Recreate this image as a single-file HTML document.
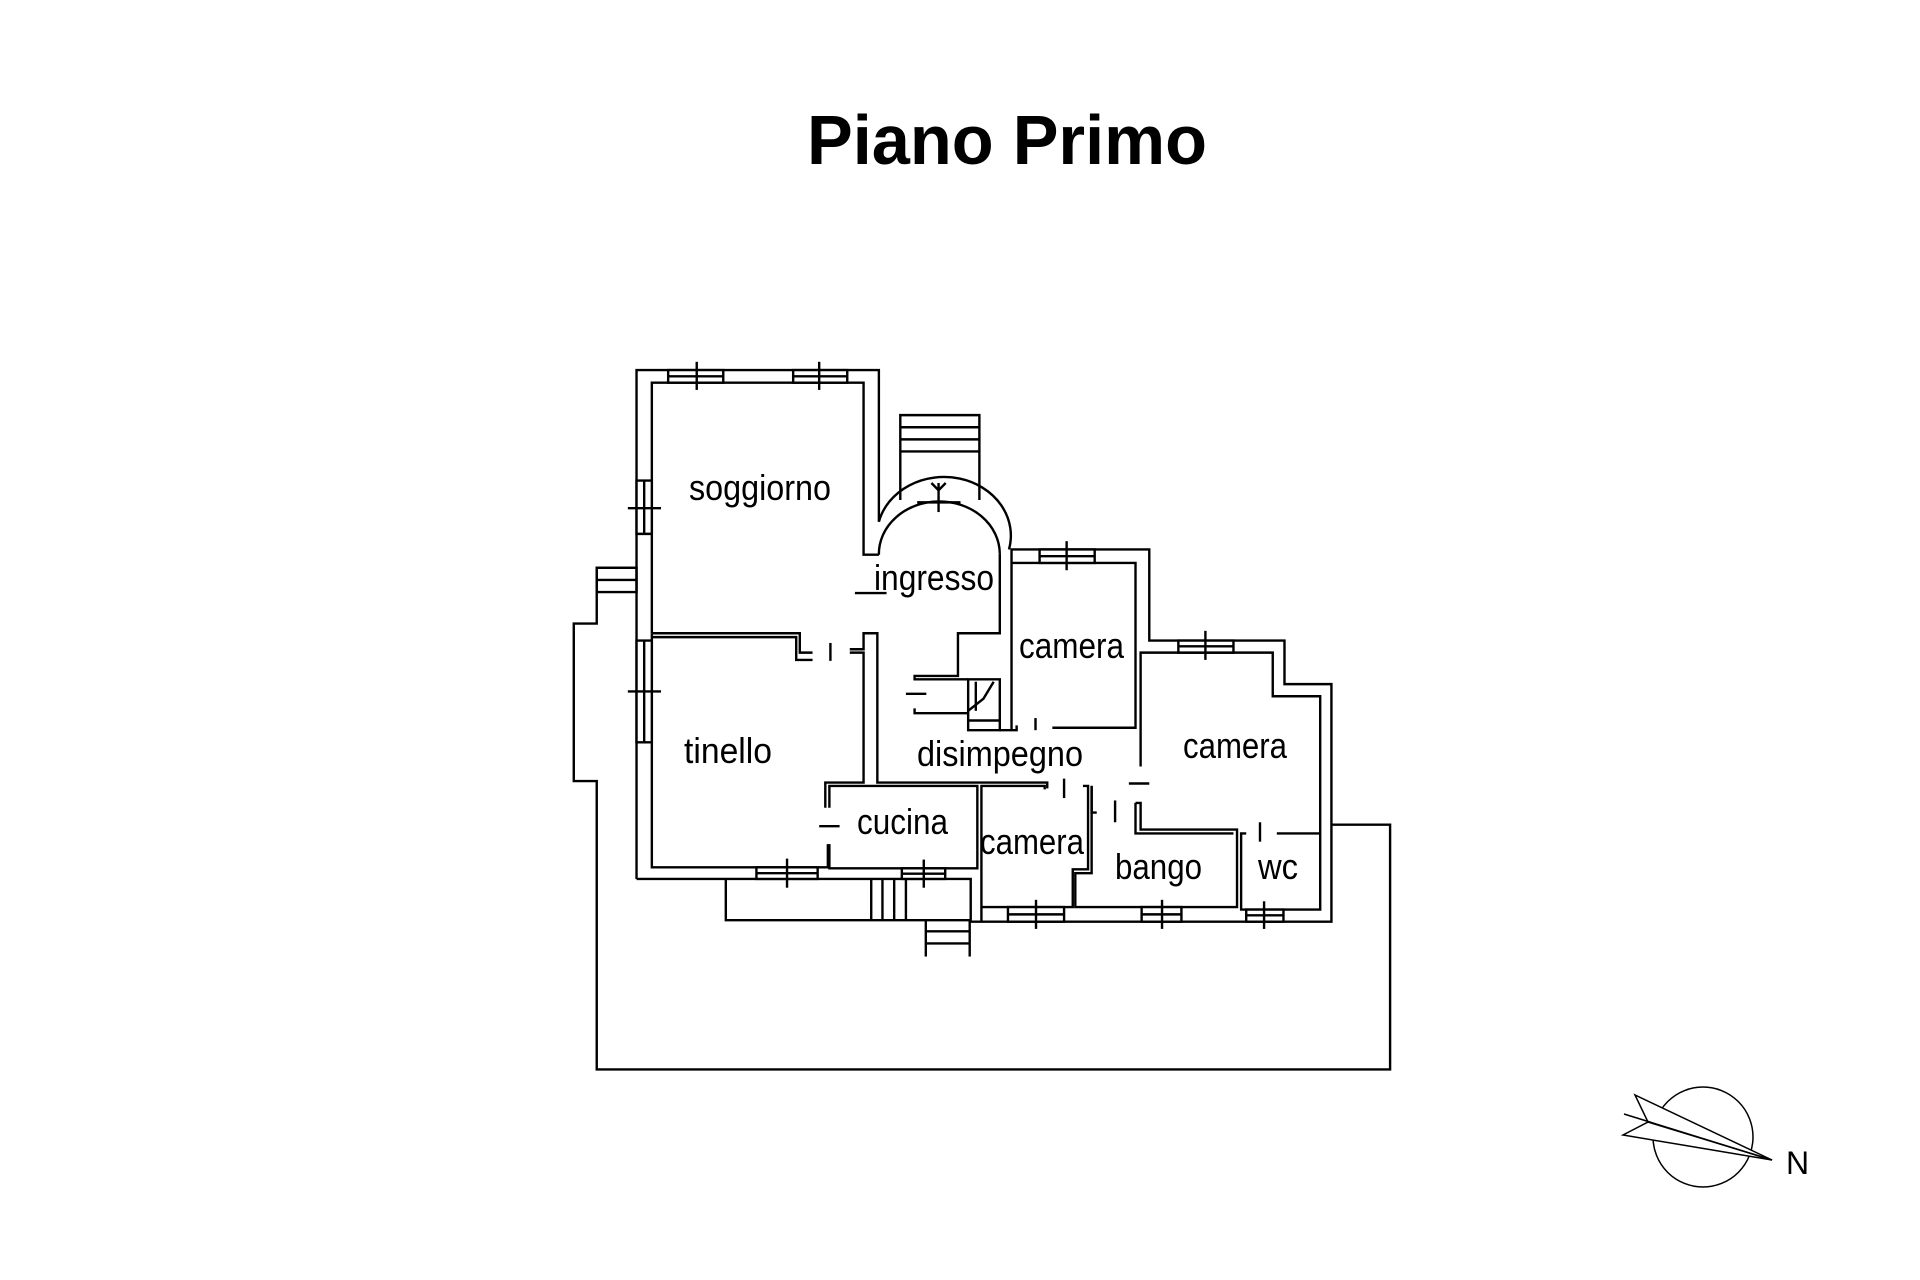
<!DOCTYPE html>
<html><head><meta charset="utf-8"><style>
html,body{margin:0;padding:0;background:#fff;}
svg{display:block;}
text{font-family:"Liberation Sans",sans-serif;fill:#000;}
</style></head><body>
<svg width="1920" height="1280" viewBox="0 0 1920 1280" xmlns="http://www.w3.org/2000/svg">
<rect width="1920" height="1280" fill="#fff"/>
<text x="807" y="164" font-size="70" font-weight="bold" textLength="400" lengthAdjust="spacingAndGlyphs">Piano Primo</text>

<g transform="translate(560,340) scale(0.5102,0.4847)" fill="none" stroke="#000" stroke-width="2.4" >
<g>
<polyline vector-effect="non-scaling-stroke" points="150,470 72,470 72,585 27,585 27,910 72,910 72,1505 1627,1505 1627,1000 1512,1000"/>
<rect vector-effect="non-scaling-stroke" x="72" y="470" width="78" height="50"/>
<line vector-effect="non-scaling-stroke" x1="72" y1="495" x2="150" y2="495"/>
<polyline vector-effect="non-scaling-stroke" points="150,1112 150,62 625,62 625,375"/>
<polyline vector-effect="non-scaling-stroke" points="180,605 180,88 595,88 595,443 625,443"/>
<path vector-effect="non-scaling-stroke" d="M625,375 A128,118 0 0 1 880,432"/>
<path vector-effect="non-scaling-stroke" d="M625,443 A118,108 0 0 1 862,440"/>
<polyline vector-effect="non-scaling-stroke" points="862,440 862,605 780,605 780,693 695,693 695,700 800,700"/>
<line vector-effect="non-scaling-stroke" x1="700" y1="335" x2="785" y2="335"/>
<line vector-effect="non-scaling-stroke" x1="742" y1="295" x2="742" y2="355"/>
<polyline vector-effect="non-scaling-stroke" points="728,295 742,310 756,295"/>
<polyline vector-effect="non-scaling-stroke" points="667,330 667,155 822,155 822,330"/>
<line vector-effect="non-scaling-stroke" x1="667" y1="180" x2="822" y2="180"/>
<line vector-effect="non-scaling-stroke" x1="667" y1="205" x2="822" y2="205"/>
<line vector-effect="non-scaling-stroke" x1="667" y1="230" x2="822" y2="230"/>
<rect vector-effect="non-scaling-stroke" x="800" y="700" width="62" height="105"/>
<polyline vector-effect="non-scaling-stroke" points="695,760 695,770 800,770"/>
<line vector-effect="non-scaling-stroke" x1="678" y1="730" x2="718" y2="730"/>
<polyline vector-effect="non-scaling-stroke" points="800,765 830,740 850,705"/>
<line vector-effect="non-scaling-stroke" x1="815" y1="705" x2="815" y2="765"/>
<line vector-effect="non-scaling-stroke" x1="800" y1="785" x2="862" y2="785"/>
<polyline vector-effect="non-scaling-stroke" points="885,805 885,432 1155,432 1155,620 1420,620 1420,710 1512,710 1512,1200 805,1200 805,1112 150,1112"/>
<polyline vector-effect="non-scaling-stroke" points="862,805 895,805 895,795"/>
<polyline vector-effect="non-scaling-stroke" points="885,460 1128,460 1128,800 965,800"/>
<line vector-effect="non-scaling-stroke" x1="932" y1="780" x2="932" y2="805"/>
<polyline vector-effect="non-scaling-stroke" points="1138,880 1138,645 1397,645 1397,735 1490,735 1490,1175 1335,1175 1335,1018 1345,1018"/>
<line vector-effect="non-scaling-stroke" x1="1115" y1="915" x2="1155" y2="915"/>
<line vector-effect="non-scaling-stroke" x1="1405" y1="1018" x2="1490" y2="1018"/>
<line vector-effect="non-scaling-stroke" x1="1372" y1="995" x2="1372" y2="1035"/>
<polyline vector-effect="non-scaling-stroke" points="1128,955 1138,955 1138,1010 1327,1010 1327,1170 1010,1170 1010,1100 1042,1100 1042,920"/>
<polyline vector-effect="non-scaling-stroke" points="1128,955 1128,1018 1320,1018"/>
<line vector-effect="non-scaling-stroke" x1="1088" y1="950" x2="1088" y2="995"/>
<polyline vector-effect="non-scaling-stroke" points="826,1200 826,920 950,920 950,927"/>
<polyline vector-effect="non-scaling-stroke" points="826,1170 1005,1170 1005,1092 1035,1092 1035,920 1025,920"/>
<line vector-effect="non-scaling-stroke" x1="988" y1="905" x2="988" y2="945"/>
<polyline vector-effect="non-scaling-stroke" points="1042,920 1042,975 1052,975"/>
<polyline vector-effect="non-scaling-stroke" points="180,605 180,1088 525,1088 525,1040"/>
<polyline vector-effect="non-scaling-stroke" points="180,613 463,613 463,660 495,660"/>
<polyline vector-effect="non-scaling-stroke" points="180,605 470,605 470,645 495,645"/>
<line vector-effect="non-scaling-stroke" x1="530" y1="625" x2="530" y2="662"/>
<polyline vector-effect="non-scaling-stroke" points="568,645 595,645 595,913 520,913 520,965"/>
<polyline vector-effect="non-scaling-stroke" points="568,638 595,638 595,605 622,605 622,913 955,913 955,925"/>
<polyline vector-effect="non-scaling-stroke" points="528,965 528,920 818,920 818,1090 528,1090 528,1040"/>
<line vector-effect="non-scaling-stroke" x1="508" y1="1003" x2="548" y2="1003"/>
<line vector-effect="non-scaling-stroke" x1="578" y1="522" x2="640" y2="522"/>
<polyline vector-effect="non-scaling-stroke" points="325,1112 325,1197 805,1197"/>
<line vector-effect="non-scaling-stroke" x1="610" y1="1112" x2="610" y2="1197"/>
<line vector-effect="non-scaling-stroke" x1="632" y1="1112" x2="632" y2="1197"/>
<line vector-effect="non-scaling-stroke" x1="655" y1="1112" x2="655" y2="1197"/>
<line vector-effect="non-scaling-stroke" x1="678" y1="1112" x2="678" y2="1197"/>
<line vector-effect="non-scaling-stroke" x1="717" y1="1197" x2="717" y2="1272"/>
<line vector-effect="non-scaling-stroke" x1="803" y1="1197" x2="803" y2="1272"/>
<line vector-effect="non-scaling-stroke" x1="717" y1="1220" x2="803" y2="1220"/>
<line vector-effect="non-scaling-stroke" x1="717" y1="1245" x2="803" y2="1245"/>
<g fill="#fff">
<rect vector-effect="non-scaling-stroke" x="212" y="62" width="108" height="26"/>
<rect vector-effect="non-scaling-stroke" x="457" y="62" width="106" height="26"/>
<rect vector-effect="non-scaling-stroke" x="385" y="1088" width="120" height="24"/>
<rect vector-effect="non-scaling-stroke" x="670" y="1090" width="85" height="22"/>
<rect vector-effect="non-scaling-stroke" x="940" y="432" width="108" height="28"/>
<rect vector-effect="non-scaling-stroke" x="1212" y="620" width="108" height="25"/>
<rect vector-effect="non-scaling-stroke" x="878" y="1170" width="110" height="30"/>
<rect vector-effect="non-scaling-stroke" x="1140" y="1170" width="78" height="30"/>
<rect vector-effect="non-scaling-stroke" x="1345" y="1175" width="73" height="25"/>
<rect vector-effect="non-scaling-stroke" x="150" y="290" width="30" height="110"/>
<rect vector-effect="non-scaling-stroke" x="150" y="620" width="30" height="210"/>
</g>
<line vector-effect="non-scaling-stroke" x1="212" y1="75" x2="320" y2="75"/>
<line vector-effect="non-scaling-stroke" x1="457" y1="75" x2="563" y2="75"/>
<line vector-effect="non-scaling-stroke" x1="385" y1="1100" x2="505" y2="1100"/>
<line vector-effect="non-scaling-stroke" x1="670" y1="1101" x2="755" y2="1101"/>
<line vector-effect="non-scaling-stroke" x1="940" y1="446" x2="1048" y2="446"/>
<line vector-effect="non-scaling-stroke" x1="1212" y1="632" x2="1320" y2="632"/>
<line vector-effect="non-scaling-stroke" x1="878" y1="1185" x2="988" y2="1185"/>
<line vector-effect="non-scaling-stroke" x1="1140" y1="1185" x2="1218" y2="1185"/>
<line vector-effect="non-scaling-stroke" x1="1345" y1="1187" x2="1418" y2="1187"/>
<line vector-effect="non-scaling-stroke" x1="165" y1="290" x2="165" y2="400"/>
<line vector-effect="non-scaling-stroke" x1="165" y1="620" x2="165" y2="830"/>
<line vector-effect="non-scaling-stroke" x1="268" y1="45" x2="268" y2="103"/>
<line vector-effect="non-scaling-stroke" x1="508" y1="45" x2="508" y2="103"/>
<line vector-effect="non-scaling-stroke" x1="445" y1="1070" x2="445" y2="1130"/>
<line vector-effect="non-scaling-stroke" x1="713" y1="1072" x2="713" y2="1130"/>
<line vector-effect="non-scaling-stroke" x1="993" y1="415" x2="993" y2="475"/>
<line vector-effect="non-scaling-stroke" x1="1265" y1="600" x2="1265" y2="660"/>
<line vector-effect="non-scaling-stroke" x1="933" y1="1155" x2="933" y2="1215"/>
<line vector-effect="non-scaling-stroke" x1="1180" y1="1155" x2="1180" y2="1215"/>
<line vector-effect="non-scaling-stroke" x1="1380" y1="1158" x2="1380" y2="1215"/>
<line vector-effect="non-scaling-stroke" x1="133" y1="347" x2="198" y2="347"/>
<line vector-effect="non-scaling-stroke" x1="133" y1="725" x2="198" y2="725"/>
</g>
</g>

<g font-size="36">
<text x="689" y="500" textLength="142" lengthAdjust="spacingAndGlyphs">soggiorno</text>
<text x="874" y="590" textLength="120" lengthAdjust="spacingAndGlyphs">ingresso</text>
<text x="1019" y="658" textLength="105" lengthAdjust="spacingAndGlyphs">camera</text>
<text x="684" y="763" textLength="88" lengthAdjust="spacingAndGlyphs">tinello</text>
<text x="917" y="766" textLength="166" lengthAdjust="spacingAndGlyphs">disimpegno</text>
<text x="1183" y="758" textLength="104" lengthAdjust="spacingAndGlyphs">camera</text>
<text x="857" y="834" textLength="91" lengthAdjust="spacingAndGlyphs">cucina</text>
<text x="980" y="854" textLength="104" lengthAdjust="spacingAndGlyphs">camera</text>
<text x="1115" y="879" textLength="87" lengthAdjust="spacingAndGlyphs">bango</text>
<text x="1258" y="879" textLength="40" lengthAdjust="spacingAndGlyphs">wc</text>
</g>

<g fill="none" stroke="#000" stroke-width="1.5">
<circle cx="1703" cy="1137" r="50"/>
<polygon fill="#fff" points="1635,1095 1648,1122 1623,1135 1772,1160"/>
<line x1="1624" y1="1114" x2="1772" y2="1160"/>
<line x1="1648" y1="1122" x2="1772" y2="1160"/>
</g>
<text x="1786" y="1174" font-size="32">N</text>
</svg>
</body></html>
